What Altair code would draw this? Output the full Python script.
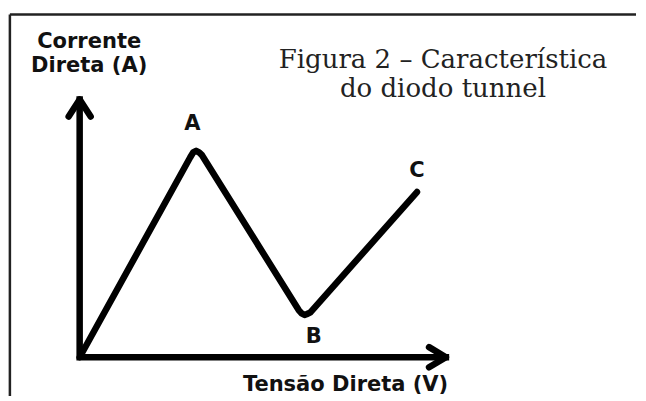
import altair as alt
import pandas as pd

# Curve of the tunnel diode (normalised forward voltage / forward current)
tensao = [0.0, 0.302, 0.310, 0.318, 0.326, 0.334, 0.598, 0.606, 0.614, 0.622, 0.630, 0.921]
corrente = [0.0, 0.776, 0.795, 0.801, 0.795, 0.784, 0.183, 0.170, 0.164, 0.168, 0.174, 0.641]

# Point labels
point_labels = ["A", "B", "C"]
label_x = [0.308, 0.639, 0.921]
label_y = [0.880, 0.054, 0.699]

# Axes with arrow heads (segment id, x, y)
arrow_seg = ["axes", "axes", "axes", "up", "up", "up", "right", "right", "right"]
arrow_x = [0.0, 0.0, 1.0, -0.030, 0.0, 0.030, 0.954, 1.0, 0.954]
arrow_y = [1.0, 0.0, 0.0, 0.934, 1.0, 0.934, 0.039, 0.0, -0.039]

# Text
y_title = ["Corrente", "Direta (A)"]
y_title_x = [0.026, 0.026]
y_title_y = [1.201, 1.108]
x_title = ["Tensão Direta (V)"]
x_title_x = [0.726]
x_title_y = [-0.131]
fig_title = ["Figura 2 – Característica", "do diodo tunnel"]
fig_title_x = [0.992, 0.992]
fig_title_y = [1.124, 1.010]

# Frame (top and left border)
frame_top = 1.330
frame_left = -0.1905

XD = [-0.19293, 1.51902]
YD = [-0.15058, 1.35521]
xs = alt.Scale(domain=XD, nice=False, zero=False)
ys = alt.Scale(domain=YD, nice=False, zero=False)

curve_df = pd.DataFrame({"x": tensao, "y": corrente, "i": range(len(tensao))})
arrow_df = pd.DataFrame({"seg": arrow_seg, "x": arrow_x, "y": arrow_y,
                         "i": range(len(arrow_x))})
lab_df = pd.DataFrame({"t": point_labels, "x": label_x, "y": label_y})
yt_df = pd.DataFrame({"t": y_title, "x": y_title_x, "y": y_title_y})
xt_df = pd.DataFrame({"t": x_title, "x": x_title_x, "y": x_title_y})
ft_df = pd.DataFrame({"t": fig_title, "x": fig_title_x, "y": fig_title_y})
frame_df = pd.DataFrame({"x": [frame_left, frame_left], "x2": [XD[1], frame_left],
                         "y": [frame_top, YD[0]], "y2": [frame_top, frame_top]})

X = lambda f="x": alt.X(f"{f}:Q", scale=xs, axis=None)
Y = lambda f="y": alt.Y(f"{f}:Q", scale=ys, axis=None)

frame = alt.Chart(frame_df).mark_rule(color="#222", strokeWidth=2.5).encode(
    x=X(), x2="x2:Q", y=Y(), y2="y2:Q")

axes = alt.Chart(arrow_df[arrow_df.seg == "axes"]).mark_line(
    color="black", strokeWidth=6.5, strokeJoin="miter", strokeCap="square").encode(
    x=X(), y=Y(), order="i:Q")

heads = alt.Chart(arrow_df[arrow_df.seg != "axes"]).mark_line(
    color="black", strokeWidth=6.5, strokeJoin="round", strokeCap="round").encode(
    x=X(), y=Y(), detail="seg:N", order="i:Q")

curve = alt.Chart(curve_df).mark_line(
    color="black", strokeWidth=6.5, strokeJoin="round", strokeCap="round").encode(
    x=X(), y=Y(), order="i:Q")

sans_bold = dict(font="DejaVu Sans", fontWeight="bold", fontSize=21,
                 color="#111", baseline="alphabetic", align="center")

labels = alt.Chart(lab_df).mark_text(**sans_bold).encode(x=X(), y=Y(), text="t:N")
ytitle = alt.Chart(yt_df).mark_text(**sans_bold).encode(x=X(), y=Y(), text="t:N")
xtitle = alt.Chart(xt_df).mark_text(**sans_bold).encode(x=X(), y=Y(), text="t:N")
ftitle = alt.Chart(ft_df).mark_text(font="DejaVu Serif", fontSize=26, color="#222",
                                    baseline="alphabetic", align="center").encode(
    x=X(), y=Y(), text="t:N")

chart = alt.layer(frame, axes, heads, curve, labels, ytitle, xtitle, ftitle).properties(
    width=630, height=390, padding=0,
    autosize=alt.AutoSizeParams(type="fit", contains="padding"),
    background="white",
).configure_view(strokeWidth=0)

chart.save("out.html", embed_options={"renderer": "svg", "actions": False})
